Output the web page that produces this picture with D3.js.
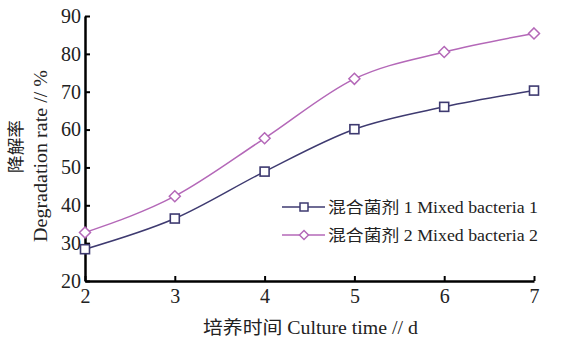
<!DOCTYPE html>
<html><head><meta charset="utf-8">
<script src="https://cdn.jsdelivr.net/npm/d3@7"></script>
<style>body{margin:0;background:#fff}svg{display:block}</style>
</head><body><svg id="c" width="574" height="344"></svg>
<script>
const days = [2, 3, 4, 5, 6, 7];
const mixed1 = [28.4, 36.5, 48.9, 60.1, 66.0, 70.3];
const mixed2 = [32.8, 42.4, 57.7, 73.4, 80.5, 85.4];
const seriesNames = ["混合菌剂 1 Mixed bacteria 1", "混合菌剂 2 Mixed bacteria 2"];
const yTicks = [20, 30, 40, 50, 60, 70, 80, 90];
const xTicks = [2, 3, 4, 5, 6, 7];

const svg = d3.select("#c");
const x = d3.scaleLinear().domain([2, 7]).range([85, 534]);
const y = d3.scaleLinear().domain([20, 90]).range([281, 16]);
const serif = "'Liberation Serif','Noto Sans CJK SC',serif";
const colors = ["#3e3a70", "#b468b8"];

// axes
const xa = svg.append("g").attr("transform", "translate(0,281)")
  .call(d3.axisBottom(x).tickValues(xTicks).tickSizeInner(-5).tickSizeOuter(0).tickPadding(10).tickFormat(d3.format("d")));
const ya = svg.append("g").attr("transform", "translate(85,0)")
  .call(d3.axisLeft(y).tickValues(yTicks).tickSizeInner(-5).tickSizeOuter(0).tickPadding(4));
[xa, ya].forEach(a => {
  a.select(".domain").attr("stroke", "#000").attr("stroke-width", 2.5);
  a.selectAll(".tick line").attr("stroke", "#000").attr("stroke-width", 2);
  a.selectAll(".tick text").attr("font-family", serif).attr("font-size", 20).attr("fill", "#222");
});
xa.selectAll(".tick text").attr("dy", "0.6em");

// lines
const line = d3.line().x(d => x(d[0])).y(d => y(d[1])).curve(d3.curveMonotoneX);
const data = [mixed1, mixed2].map(s => days.map((d, i) => [d, s[i]]));
data.forEach((s, k) => {
  svg.append("path").attr("d", line(s)).attr("fill", "none").attr("stroke", colors[k]).attr("stroke-width", 1.5);
});
function marker(g, k, cx, cy) {
  if (k === 0) {
    g.append("rect").attr("x", cx - 4.5).attr("y", cy - 4.5).attr("width", 9).attr("height", 9)
      .attr("fill", "#fff").attr("stroke", colors[0]).attr("stroke-width", 1.6);
  } else {
    g.append("path").attr("d", `M${cx},${cy-5.5}L${cx+5.5},${cy}L${cx},${cy+5.5}L${cx-5.5},${cy}Z`)
      .attr("fill", "#fff").attr("stroke", colors[1]).attr("stroke-width", 1.5);
  }
}
data.forEach((s, k) => {
  const g = svg.append("g");
  s.forEach(d => marker(g, k, x(d[0]), y(d[1])));
});

// legend
seriesNames.forEach((n, k) => {
  const ly = 207 + k * 28;
  svg.append("line").attr("x1", 282).attr("x2", 325).attr("y1", ly).attr("y2", ly)
    .attr("stroke", colors[k]).attr("stroke-width", 1.5);
  const g = svg.append("g");
  if (k === 0) {
    g.append("rect").attr("x", 300).attr("y", ly - 4).attr("width", 8).attr("height", 8)
      .attr("fill", "#fff").attr("stroke", colors[0]).attr("stroke-width", 1.5);
  } else {
    g.append("path").attr("d", `M304,${ly-4.5}L308.5,${ly}L304,${ly+4.5}L299.5,${ly}Z`)
      .attr("fill", "#fff").attr("stroke", colors[1]).attr("stroke-width", 1.5);
  }
  svg.append("text").attr("x", 328).attr("y", ly).attr("dy", "0.36em")
    .attr("font-family", serif).attr("font-size", 16).attr("fill", "#222")
    .attr("textLength", 210).attr("lengthAdjust", "spacingAndGlyphs").text(n);
});

// axis titles
svg.append("text").attr("x", 203).attr("y", 328).attr("dy", "0.36em")
  .attr("font-family", serif).attr("font-size", 18).attr("fill", "#222")
  .attr("textLength", 215).attr("lengthAdjust", "spacingAndGlyphs").text("培养时间 Culture time // d");
svg.append("text").attr("transform", "translate(16,173) rotate(-90)").attr("dy", "0.36em")
  .attr("font-family", serif).attr("font-size", 17).attr("fill", "#222")
  .attr("textLength", 53).attr("lengthAdjust", "spacingAndGlyphs").text("降解率");
svg.append("text").attr("transform", "translate(40,242) rotate(-90)").attr("dy", "0.36em")
  .attr("font-family", serif).attr("font-size", 19).attr("fill", "#222")
  .attr("textLength", 172).attr("lengthAdjust", "spacingAndGlyphs").text("Degradation rate // %");
</script></body></html>
